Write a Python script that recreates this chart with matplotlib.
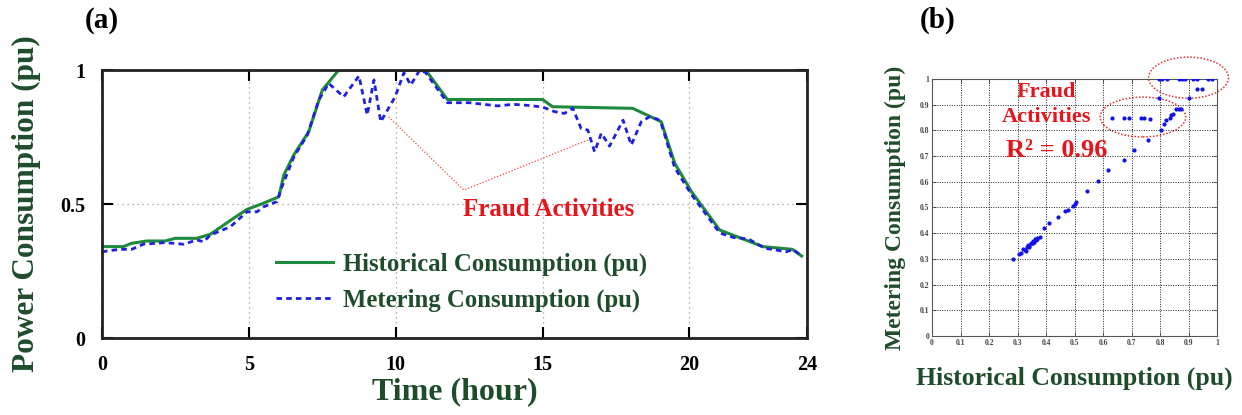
import numpy as np
import matplotlib
matplotlib.use("Agg")
from matplotlib import pyplot as plt
from matplotlib.patches import Ellipse

plt.rcParams['font.family'] = ['Liberation Serif', 'DejaVu Serif']
plt.rcParams['font.weight'] = 'bold'
plt.rcParams['axes.labelweight'] = 'bold'

# (a) daily profile, breakpoints
hist_hours = [0, 0.73, 1.0, 1.52, 2.15, 2.49, 3.23, 3.69, 4.48, 4.94, 5.5, 6.02, 6.19,
              6.53, 7.04, 7.5, 8.06, 11.02, 11.76, 15.0, 15.34, 18.07, 19.04, 19.5,
              20.07, 21.03, 22.5, 23.5, 23.82]
hist = [0.341, 0.341, 0.353, 0.362, 0.362, 0.372, 0.372, 0.387, 0.447, 0.48, 0.503, 0.527,
        0.608, 0.683, 0.77, 0.925, 1.0, 1.0, 0.89, 0.89, 0.863, 0.857, 0.807, 0.652,
        0.546, 0.403, 0.341, 0.331, 0.306]

meter_hours = [0, 0.61, 1.01, 1.41, 2.15, 2.78, 3.23, 3.46, 3.69, 4.37, 4.94, 5.28, 5.51,
               5.96, 6.13, 6.53, 6.99, 7.38, 7.72, 8.23, 8.75, 9.03, 9.26, 9.49, 9.98,
               10.28, 10.51, 10.82, 11.02, 11.76, 12.5, 13.0, 13.47, 14.0, 14.5, 15.0,
               15.4, 15.74, 16.03, 16.31, 16.54, 16.77, 17.0, 17.28, 17.74, 18.02, 18.36,
               18.65, 18.93, 19.04, 19.5, 20.07, 21.03, 21.5, 22.0, 22.57, 23.3, 23.54, 23.82]
meter = [0.322, 0.331, 0.331, 0.35, 0.356, 0.35, 0.366, 0.359, 0.384, 0.415, 0.471, 0.471,
         0.49, 0.509, 0.565, 0.675, 0.757, 0.888, 0.95, 0.90, 0.978, 0.832, 0.963, 0.807,
         0.90, 0.99, 0.944, 1.0, 0.99, 0.878, 0.878, 0.872, 0.866, 0.872, 0.868, 0.862,
         0.845, 0.838, 0.857, 0.782, 0.776, 0.695, 0.764, 0.716, 0.813, 0.72, 0.807,
         0.826, 0.816, 0.80, 0.635, 0.535, 0.392, 0.375, 0.37, 0.335, 0.322, 0.33, 0.306]

# fraud annotation polyline (hour, pu)
fraud_x = [9.76, 12.32, 16.55]
fraud_y = [0.825, 0.552, 0.739]

# (b) scatter of metering vs historical
sc_hist = [0.283, 0.306, 0.314, 0.32, 0.325, 0.332, 0.338, 0.342, 0.346, 0.35, 0.353,
           0.357, 0.361, 0.364, 0.367, 0.37, 0.33, 0.34, 0.355, 0.378, 0.394, 0.411,
           0.441, 0.467, 0.478, 0.496, 0.502, 0.505, 0.543, 0.581, 0.619, 0.672, 0.709,
           0.757, 0.804, 0.815, 0.822, 0.834, 0.84, 0.845, 0.857, 0.865, 0.873, 0.633,
           0.675, 0.69, 0.734, 0.745, 0.766, 0.798, 0.90, 0.93, 0.947, 0.797, 0.806,
           0.826, 0.865, 0.877, 0.888, 0.915, 0.93, 0.967, 0.982]
sc_meter = [0.301, 0.32, 0.323, 0.34, 0.335, 0.346, 0.355, 0.35, 0.362, 0.36, 0.37,
            0.365, 0.377, 0.372, 0.383, 0.378, 0.33, 0.345, 0.36, 0.385, 0.42, 0.44,
            0.463, 0.485, 0.489, 0.505, 0.515, 0.521, 0.563, 0.602, 0.645, 0.684, 0.722,
            0.761, 0.80, 0.825, 0.84, 0.85, 0.86, 0.865, 0.885, 0.885, 0.885, 0.85,
            0.85, 0.85, 0.85, 0.85, 0.845, 0.926, 0.926, 0.962, 0.962, 1.0, 1.0,
            1.0, 1.0, 1.0, 1.0, 1.0, 1.0, 1.0, 1.0]

dark_green = '#1f4d2c'
line_green = '#1e8a3c'

fig = plt.figure(figsize=(12.42, 4.15), dpi=100)

ax = fig.add_axes([0.0821, 0.1855, 0.5676, 0.6458])
ax.plot(hist_hours, hist, color=line_green, lw=2.2, label='Historical Consumption (pu)')
ax.plot(meter_hours, meter, color='#2020e0', lw=2.0, ls=(0, (2, 1.5)),
        label='Metering Consumption (pu)')
ax.plot(fraud_x, fraud_y, color='#ff4040', lw=0.9, ls=(0, (1, 1.5)))
ax.text(15.2, 0.478, 'Fraud Activities', color='#e8141c', fontsize=18,
        fontweight='bold', ha='center', va='center')
ax.set_xlim(0, 24)
ax.set_ylim(0, 1)
ax.set_xticks([0, 5, 10, 15, 20, 24])
ax.set_yticks([0, 0.5, 1])
ax.set_yticklabels(['0', '0.5', '1'])
ax.tick_params(direction='in', top=True, right=True, length=8, width=1.5,
               labelsize=14.5, pad=12)
ax.grid(True, color='#999999', ls=(0, (1, 3)), lw=0.9)
for s in ax.spines.values():
    s.set_linewidth(2)
    s.set_color('#222222')
ax.set_xlabel('Time (hour)', fontsize=23, fontweight='bold', color=dark_green, labelpad=2)
ax.set_ylabel('Power Consumption (pu)', fontsize=22.5, fontweight='bold', color=dark_green,
              labelpad=14)
leg = ax.legend(loc='lower left', bbox_to_anchor=(0.215, 0.015), frameon=False,
                prop={'size': 17.8, 'weight': 'bold'}, handlelength=2.3,
                handletextpad=0.4, labelspacing=0.5)
for t in leg.get_texts():
    t.set_color(dark_green)
fig.text(0.082, 0.95, '(a)', fontsize=21, fontweight='bold', ha='center', va='center')

bx = fig.add_axes([0.7504, 0.1904, 0.2295, 0.6193])
bx.scatter(sc_hist, sc_meter, s=4, color='#1010ee', zorder=3)
bx.add_patch(Ellipse((0.90, 1.005), 0.28, 0.16, fill=False, ec='#e03030',
                     ls=(0, (1, 1.2)), lw=1.1, clip_on=False))
bx.add_patch(Ellipse((0.74, 0.852), 0.30, 0.155, fill=False, ec='#e03030',
                     ls=(0, (1, 1.2)), lw=1.1, clip_on=False))
bx.text(0.40, 0.95, 'Fraud', color='#e8141c', fontsize=16, fontweight='bold',
        ha='center', va='center')
bx.text(0.40, 0.852, 'Activities', color='#e8141c', fontsize=16, fontweight='bold',
        ha='center', va='center')
bx.text(0.437, 0.722, 'R\u00b2 = 0.96', color='#e8141c', fontsize=19, fontweight='bold',
        ha='center', va='center')
bx.set_xlim(0, 1)
bx.set_ylim(0, 1)
ticks = np.round(np.arange(0, 1.01, 0.1), 1)
labels = ['0'] + ['%.1f' % t for t in ticks[1:-1]] + ['1']
bx.set_xticks(ticks)
bx.set_yticks(ticks)
bx.set_xticklabels(labels)
bx.set_yticklabels(labels)
bx.tick_params(direction='in', top=True, right=True, length=3, width=0.6,
               labelsize=5.5, pad=2, colors='#444444')
bx.grid(True, color='#222222', ls=(0, (1, 1.5)), lw=0.7)
for s in bx.spines.values():
    s.set_linewidth(0.8)
    s.set_color('#555555')
bx.set_xlabel('Historical Consumption (pu)', fontsize=18.5, fontweight='bold',
              color=dark_green, labelpad=14)
bx.set_ylabel('Metering Consumption (pu)', fontsize=17, fontweight='bold',
              color=dark_green, labelpad=10)
fig.text(0.755, 0.95, '(b)', fontsize=21, fontweight='bold', ha='center', va='center')

fig.savefig('out.png', dpi=100)
